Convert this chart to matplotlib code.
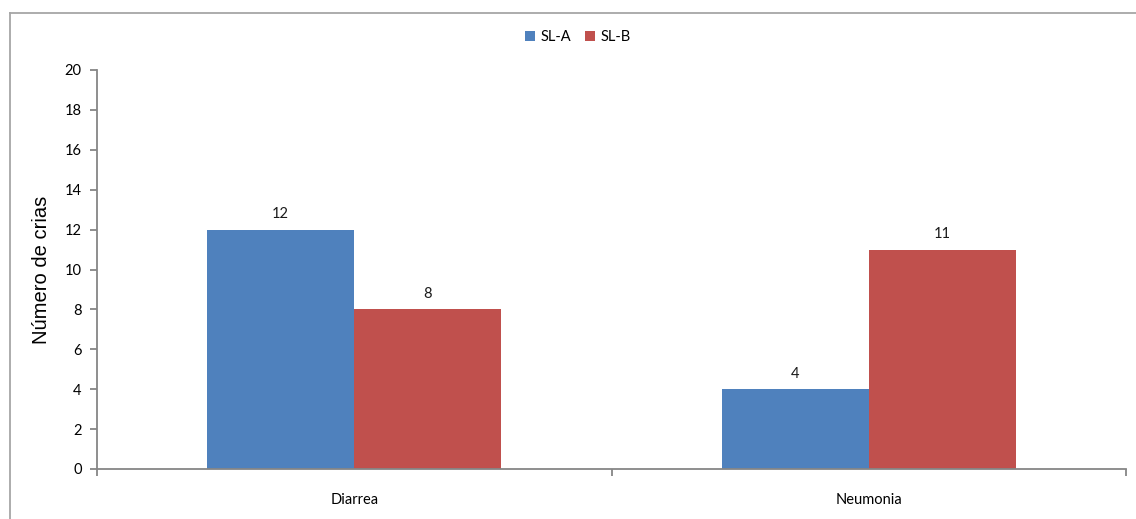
import matplotlib
matplotlib.use("Agg")
import matplotlib.pyplot as plt
import numpy as np
from matplotlib.lines import Line2D

categories = ["Diarrea", "Neumonia"]
series_names = ["SL-A", "SL-B"]
sl_a = [12, 4]
sl_b = [8, 11]
colors = ["#4F81BD", "#C0504D"]

W, H, DPI = 1136, 519, 100
fig = plt.figure(figsize=(W / DPI, H / DPI), dpi=DPI)
fig.patch.set_facecolor("white")

# chart-area frame (top and left edges)
fy = 1 - 12.5 / H
fx = 9.5 / W
fig.add_artist(Line2D([fx, 1.01], [fy, fy], transform=fig.transFigure,
                      color="#A6A6A6", linewidth=1.3))
fig.add_artist(Line2D([fx, fx], [-0.01, fy], transform=fig.transFigure,
                      color="#A6A6A6", linewidth=1.3))

ax = fig.add_axes([97 / W, (H - 469) / H, (1126 - 97) / W, 399 / H])

x = np.arange(len(categories))
bw = 0.286
bars_a = ax.bar(x - bw / 2, sl_a, bw, color=colors[0], label=series_names[0])
bars_b = ax.bar(x + bw / 2, sl_b, bw, color=colors[1], label=series_names[1])

font = "Lato"
for bars in (bars_a, bars_b):
    for b in bars:
        ax.annotate(f"{b.get_height():g}", (b.get_x() + b.get_width() / 2, b.get_height()),
                    xytext=(0, 6), textcoords="offset points", ha="center", va="bottom",
                    fontsize=10.5, family=font, color="#1a1a1a")

ax.set_xlim(-0.5, 1.5)
ax.set_ylim(0, 20)
ax.set_yticks(range(0, 21, 2))
ax.set_yticklabels([str(v) for v in range(0, 21, 2)], family=font, fontsize=10.5)

# category labels centered, ticks at category boundaries
ax.set_xticks([-0.5, 0.5, 1.5])
ax.set_xticklabels([])
ax.set_xticks(x, minor=True)
ax.set_xticklabels(categories, minor=True, family=font, fontsize=10.5)
ax.tick_params(axis="x", which="minor", length=0, pad=17)
ax.tick_params(axis="x", which="major", length=5, color="#868686", width=1.3)
ax.tick_params(axis="y", length=5, color="#868686", width=1.3, pad=6)

for s in ("top", "right"):
    ax.spines[s].set_visible(False)
for s in ("left", "bottom"):
    ax.spines[s].set_color("#868686")
    ax.spines[s].set_linewidth(1.3)

ax.set_ylabel("Número de crias", family="Liberation Sans", fontsize=14.5, labelpad=10)

leg = fig.legend(handles=[bars_a, bars_b], labels=series_names, loc="center",
                 bbox_to_anchor=(578 / W, 1 - 37 / H), ncol=2, frameon=False,
                 prop={"family": font, "size": 10.5}, handlelength=0.7, handleheight=0.7,
                 handletextpad=0.4, columnspacing=0.9)

fig.savefig("out.png", dpi=DPI)
